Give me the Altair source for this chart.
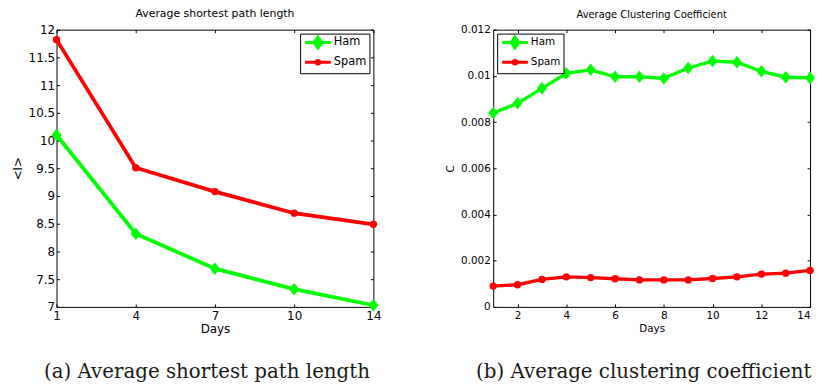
import altair as alt
import pandas as pd

# ---------------- data ----------------
series = ["Ham", "Spam"]
colors = ["#00ff00", "#ff0000"]

days_a = [1, 4, 7, 10, 14]
ham_a = [10.10, 8.32, 7.69, 7.32, 7.03]
spam_a = [11.82, 9.51, 9.08, 8.69, 8.49]

days_b = [1, 2, 3, 4, 5, 6, 7, 8, 9, 10, 11, 12, 13, 14]
ham_b = [0.00839, 0.00881, 0.00946, 0.01011, 0.01026, 0.00996, 0.00996,
         0.00989, 0.01034, 0.01064, 0.01059, 0.01020, 0.00994, 0.00991]
spam_b = [0.00090, 0.00096, 0.00119, 0.00130, 0.00127, 0.00122, 0.00117,
          0.00117, 0.00117, 0.00123, 0.00130, 0.00142, 0.00146, 0.00158]

yticks_a = [7, 7.5, 8, 8.5, 9, 9.5, 10, 10.5, 11, 11.5, 12]
xticks_b = [2, 4, 6, 8, 10, 12, 14]
yticks_b = [0, 0.002, 0.004, 0.006, 0.008, 0.010, 0.012]

title_a = "Average shortest path length"
title_b = "Average Clustering Coefficient"
ylabel_a = "<l>"
ylabel_b = "C"
xlabel = "Days"
caption_a = "(a) Average shortest path length"
caption_b = "(b) Average clustering coefficient"

# ---------------- styling ----------------
W, H = 320, 280
SANS = "DejaVu Sans"
DIAMOND = "M0,-1L0.8,0L0,1L-0.8,0Z"
# legend glyphs: a line segment with a marker, symbol size 81 -> 4.5 px per unit
LEG_HAM = "M-2.89,0L2.89,0M0,-1.22L0.89,0L0,1.22L-0.89,0ZM0,-1.22L0,1.22"
LEG_SPAM = "M-2.89,0L2.89,0M-0.4,0A0.4,0.4,0,1,0,0.4,0A0.4,0.4,0,1,0,-0.4,0ZM0,-0.4L0,0.4"


def long_df(days, ham, spam):
    return pd.DataFrame({
        "day": days + days,
        "value": ham + spam,
        "series": ["Ham"] * len(days) + ["Spam"] * len(days),
    })


def legend(orient, fs):
    return alt.Legend(
        title=None, orient=orient, offset=4,
        strokeColor="black", fillColor="white", padding=3,
        labelFont=SANS, labelFontSize=fs, labelColor="black",
        symbolSize=81, symbolStrokeWidth=3, rowPadding=0,
        symbolOffset=9, labelOffset=10,
    )


def panel(df, xenc, yenc, title, fs, leg, caption, lw):
    base = alt.Chart(df)
    cscale = alt.Scale(domain=series, range=colors)
    lines = base.mark_line(strokeWidth=lw).encode(
        x=xenc, y=yenc,
        stroke=alt.Stroke("series:N", scale=cscale, legend=leg),
    )
    pts_ham = base.transform_filter(alt.datum.series == series[0]).mark_point(
        filled=True, opacity=1, strokeWidth=0, shape=DIAMOND, size=160
    ).encode(x=xenc, y=yenc, fill=alt.Fill("series:N", scale=cscale, legend=None))
    pts_spam = base.transform_filter(alt.datum.series == series[1]).mark_point(
        filled=True, opacity=1, strokeWidth=0, shape="circle", size=55
    ).encode(x=xenc, y=yenc, fill=alt.Fill("series:N", scale=cscale, legend=None))
    # legend carrier layer: no rows survive the filter, it only feeds the legend
    leg_layer = base.transform_filter("datum.value < -1e9").mark_point(
        filled=False, opacity=1, strokeWidth=3
    ).encode(
        x=xenc, y=yenc,
        stroke=alt.Stroke("series:N", scale=cscale, legend=leg),
        shape=alt.Shape("series:N", scale=alt.Scale(domain=series, range=[LEG_HAM, LEG_SPAM]), legend=leg),
    )
    cap = alt.Chart(pd.DataFrame({"caption": [caption]})).mark_text(
        font="DejaVu Serif", fontSize=20, align="center", baseline="alphabetic", color="#1a1a1a"
    ).encode(x=alt.value(152), y=alt.value(H + 72), text="caption:N")
    return alt.layer(lines, pts_ham, pts_spam, leg_layer, cap).properties(
        width=W, height=H,
        title=alt.Title(title, font=SANS, fontSize=fs, fontWeight="normal", offset=5, color="black"),
    )


def ax(values, title, fs, grid_dash, fmt=None, title_pad=2, label_pad=3):
    kw = dict(values=values, title=title, labelFont=SANS, labelFontSize=fs, labelColor="black",
              titleFont=SANS, titleFontSize=fs, titleFontWeight="normal", titleColor="black",
              ticks=False, domain=False, grid=True, gridColor="black", gridOpacity=1,
              gridWidth=1, gridDash=grid_dash, labelPadding=label_pad, titlePadding=title_pad,
              labelAngle=0)
    if fmt:
        kw["format"] = fmt
    return alt.Axis(**kw)


df_a = long_df(days_a, ham_a, spam_a)
df_b = long_df(days_b, ham_b, spam_b)

xa = alt.X("day:O", sort=days_a, scale=alt.Scale(type="point", padding=0),
           axis=ax(days_a, xlabel, 12, [3, H - 6], label_pad=4, title_pad=2))
ya = alt.Y("value:Q", scale=alt.Scale(domain=[7, 12], nice=False, zero=False),
           axis=ax(yticks_a, ylabel_a, 12, [3, W - 6], fmt="~g", label_pad=2, title_pad=4))

xb = alt.X("day:Q", scale=alt.Scale(domain=[1, 14], nice=False, zero=False),
           axis=ax(xticks_b, xlabel, 10.5, [3, H - 6], fmt="d", label_pad=4, title_pad=2))
yb = alt.Y("value:Q", scale=alt.Scale(domain=[0, 0.012], nice=False),
           axis=ax(yticks_b, ylabel_b, 10.5, [3, W - 6], fmt=".3~f", label_pad=3, title_pad=5))

left = panel(df_a, xa, ya, title_a, 11, legend("top-right", 11.5), caption_a, 3.8)
right = panel(df_b, xb, yb, title_b, 10, legend("top-left", 10.5), caption_b, 3.4)

chart = alt.hconcat(left, right, spacing=121, bounds="flush").resolve_scale(
    x="independent", y="independent", stroke="independent",
    fill="independent", shape="independent",
).resolve_legend(shape="independent", stroke="independent").properties(
    padding={"left": 2, "top": -3, "right": 0, "bottom": 0},
    background="white",
).configure_view(stroke="black", strokeWidth=1)

chart.save("out.html", embed_options={"renderer": "svg", "actions": False})
